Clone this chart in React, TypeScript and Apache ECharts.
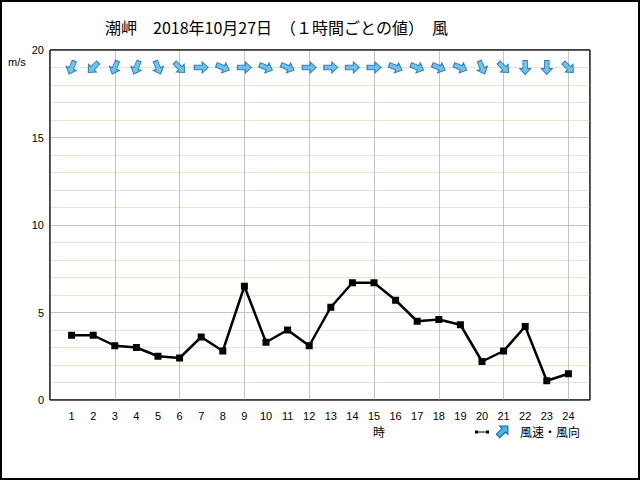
import React, { useEffect, useRef } from "react";
import * as echarts from "echarts";

const hours = [1, 2, 3, 4, 5, 6, 7, 8, 9, 10, 11, 12, 13, 14, 15, 16, 17, 18, 19, 20, 21, 22, 23, 24];
const windSpeed = [3.7, 3.7, 3.1, 3.0, 2.5, 2.4, 3.6, 2.8, 6.5, 3.3, 4.0, 3.1, 5.3, 6.7, 6.7, 5.7, 4.5, 4.6, 4.3, 2.2, 2.8, 4.2, 1.1, 1.5];
const windFrom = ["NNE", "NE", "NNE", "NNE", "NNW", "NW", "W", "WNW", "W", "WNW", "WNW", "W", "W", "W", "W", "WNW", "WNW", "WNW", "WNW", "NNW", "NW", "N", "N", "NW"];
const compass = ["N", "NNE", "NE", "ENE", "E", "ESE", "SE", "SSE", "S", "SSW", "SW", "WSW", "W", "WNW", "NW", "NNW"];
const arrowRow = 19;
const titleText = "潮岬　2018年10月27日　（１時間ごとの値）　風";
const legendText = "風速・風向";

const ARROW = "path://M0,-7 L6,-1 L2.5,-1 L2.5,7 L-2.5,7 L-2.5,-1 L-6,-1 Z";
const ARROW_FILL = "#3cbcf4";
const ARROW_STROKE = "#1a5fb4";

export default function App() {
  const ref = useRef<HTMLDivElement>(null);
  useEffect(() => {
    document.body.style.margin = "0";
    const chart = echarts.init(ref.current!, null, { renderer: "svg" });
    const arrowData = hours.map((h, i) => {
      const fromDeg = compass.indexOf(windFrom[i]) * 22.5;
      const toDeg = (fromDeg + 180) % 360;
      return { value: [h, arrowRow], symbolRotate: -toDeg };
    });
    const font = "'Liberation Sans', Arial, sans-serif";
    const cjk = "'Noto Sans CJK JP', sans-serif";
    chart.setOption({
      animation: false,
      backgroundColor: "#fff",
      title: {
        text: titleText,
        left: 100,
        top: 14,
        textStyle: { fontSize: 16, fontWeight: "normal", color: "#000", fontFamily: cjk },
      },
      grid: {
        left: 50,
        right: 50,
        top: 50,
        bottom: 80,
        show: true,
        borderColor: "#000",
        borderWidth: 1,
        backgroundColor: "transparent",
      },
      xAxis: [
        {
          type: "value",
          position: "bottom",
          min: 0,
          max: 25,
          interval: 1,
          axisLine: { show: false },
          axisTick: { show: false },
          splitLine: { show: false },
          axisLabel: {
            fontSize: 11,
            color: "#000",
            fontFamily: font,
            margin: 10,
            formatter: (v: number) => (v >= 1 && v <= 24 ? String(v) : ""),
          },
        },
        {
          type: "value",
          min: 0,
          max: 25,
          interval: 3,
          position: "bottom",
          axisLine: { show: false },
          axisTick: { show: false },
          axisLabel: { show: false },
          splitLine: { show: true, lineStyle: { color: "#c4c4c4", width: 1 } },
          z: 1,
        },
      ],
      yAxis: [
        {
          type: "value",
          position: "left",
          min: 0,
          max: 20,
          interval: 1,
          axisLine: { show: false },
          axisTick: { show: false },
          axisLabel: { show: false },
          splitLine: { show: true, lineStyle: { color: "#e9e5c9", width: 1 } },
          z: 0,
        },
        {
          type: "value",
          position: "left",
          offset: 0,
          min: 0,
          max: 20,
          interval: 5,
          axisLine: { show: false },
          axisTick: { show: false },
          axisLabel: { fontSize: 11, color: "#000", fontFamily: font, margin: 6 },
          splitLine: { show: true, lineStyle: { color: "#c4c4c4", width: 1 } },
          z: 1,
        },
      ],
      series: [
        {
          type: "line",
          xAxisIndex: 0,
          yAxisIndex: 1,
          data: hours.map((h, i) => [h, windSpeed[i]]),
          symbol: "rect",
          symbolSize: 7,
          showSymbol: true,
          lineStyle: { color: "#000", width: 2.5 },
          itemStyle: { color: "#000" },
          z: 5,
        },
        {
          type: "scatter",
          xAxisIndex: 0,
          yAxisIndex: 1,
          data: arrowData,
          symbol: ARROW,
          symbolSize: [11, 14],
          itemStyle: { color: ARROW_FILL, borderColor: ARROW_STROKE, borderWidth: 1 },
          z: 6,
        },
      ],
      graphic: [
        {
          type: "rect",
          shape: { x: 1, y: 1, width: 638, height: 478 },
          style: { fill: "none", stroke: "#000", lineWidth: 2 },
          silent: true,
          z: 100,
        },
        {
          type: "rect",
          shape: { x: 50, y: 50, width: 540, height: 350 },
          style: { fill: "none", stroke: "#000", lineWidth: 1 },
          silent: true,
          z: 50,
        },
        {
          type: "text",
          x: 8,
          y: 56,
          style: { text: "m/s", fontSize: 11, fill: "#000", fontFamily: font },
        },
        {
          type: "text",
          x: 373,
          y: 425,
          style: { text: "時", fontSize: 12, fill: "#000", fontFamily: cjk },
        },
        {
          type: "line",
          shape: { x1: 476, y1: 432, x2: 488, y2: 432 },
          style: { stroke: "#000", lineWidth: 1 },
        },
        {
          type: "rect",
          shape: { x: 475, y: 430.5, width: 3, height: 3 },
          style: { fill: "#000" },
        },
        {
          type: "rect",
          shape: { x: 486, y: 430.5, width: 3, height: 3 },
          style: { fill: "#000" },
        },
        {
          type: "polygon",
          x: 503,
          y: 431,
          rotation: -Math.PI / 4,
          shape: { points: [[0, -7], [6, -1], [2.5, -1], [2.5, 7], [-2.5, 7], [-2.5, -1], [-6, -1]] },
          style: { fill: ARROW_FILL, stroke: ARROW_STROKE, lineWidth: 1 },
        },
        {
          type: "text",
          x: 520,
          y: 425,
          style: { text: legendText, fontSize: 12, fill: "#000", fontFamily: cjk },
        },
      ],
    });
    return () => chart.dispose();
  }, []);
  return <div ref={ref} style={{ width: 640, height: 480 }} />;
}
